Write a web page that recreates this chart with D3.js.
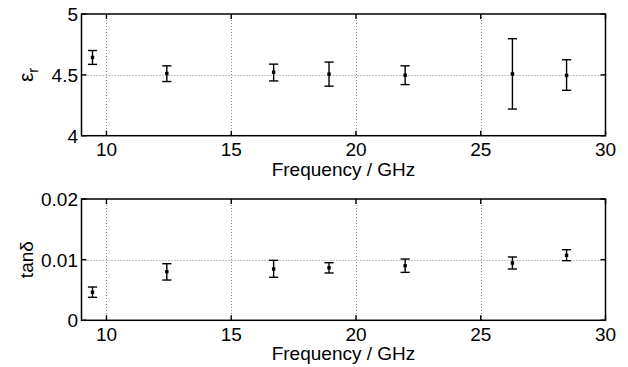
<!DOCTYPE html>
<html lang="en">
<head>
<meta charset="UTF-8">
<title>Permittivity and loss tangent vs frequency</title>
<script src="https://d3js.org/d3.v7.min.js"></script>
<style>
    body { margin: 0; background: #fff; }
    svg { display: block; }
    text { font-family: "Liberation Sans", Arial, sans-serif; fill: #000; }
    .grid { stroke: #888; stroke-width: 1; stroke-dasharray: 1,2; }
    .frame { fill: none; stroke: #000; stroke-width: 1.5; }
    .err { stroke: #000; stroke-width: 1.4; }
</style>
</head>
<body>
<svg width="628" height="367"></svg>
<script>
// frequency points (GHz)
const freq = [9.44, 12.42, 16.70, 18.92, 21.97, 26.27, 28.44];

// relative permittivity with error bar bounds
const epsVal = [4.643, 4.511, 4.522, 4.506, 4.497, 4.508, 4.495];
const epsLow = [4.586, 4.445, 4.450, 4.407, 4.420, 4.219, 4.373];
const epsHigh = [4.700, 4.574, 4.588, 4.605, 4.574, 4.797, 4.624];

// loss tangent with error bar bounds
const tanVal = [0.00462, 0.00801, 0.00846, 0.00867, 0.0090, 0.00945, 0.01072];
const tanLow = [0.00379, 0.00664, 0.00709, 0.0078, 0.0079, 0.00846, 0.00983];
const tanHigh = [0.00549, 0.00933, 0.00989, 0.0095, 0.0101, 0.01044, 0.01164];

const xTicks = [10, 15, 20, 25, 30];
const epsTicks = [4, 4.5, 5];
const tanTicks = [0, 0.01, 0.02];

const svg = d3.select("svg");
const left = 81.5, right = 605.5;

function panel(top, bottom, yDomain, yTicks, yFmt, vals, lows, highs, label) {
    const x = d3.scaleLinear().domain([9, 30]).range([left, right]);
    const y = d3.scaleLinear().domain(yDomain).range([bottom, top]);
    const g = svg.append("g");

    // dotted grid
    g.selectAll(".gx").data(xTicks.filter(t => t > 9 && t < 30)).enter().append("line")
        .attr("class", "grid")
        .attr("x1", d => Math.round(x(d)) + 0.5).attr("x2", d => Math.round(x(d)) + 0.5)
        .attr("y1", top).attr("y2", bottom);
    g.selectAll(".gy").data(yTicks.slice(1, -1)).enter().append("line")
        .attr("class", "grid")
        .attr("x1", left).attr("x2", right)
        .attr("y1", d => Math.round(y(d)) + 0.5).attr("y2", d => Math.round(y(d)) + 0.5);

    // inward ticks on all four sides
    const tl = 5;
    xTicks.forEach(t => {
        g.append("line").attr("class", "err").attr("x1", x(t)).attr("x2", x(t)).attr("y1", bottom).attr("y2", bottom - tl);
        g.append("line").attr("class", "err").attr("x1", x(t)).attr("x2", x(t)).attr("y1", top).attr("y2", top + tl);
    });
    yTicks.forEach(t => {
        g.append("line").attr("class", "err").attr("x1", left).attr("x2", left + tl).attr("y1", y(t)).attr("y2", y(t));
        g.append("line").attr("class", "err").attr("x1", right).attr("x2", right - tl).attr("y1", y(t)).attr("y2", y(t));
    });

    g.append("rect").attr("class", "frame")
        .attr("x", left).attr("y", top).attr("width", right - left).attr("height", bottom - top);

    // tick labels
    g.selectAll(".xl").data(xTicks).enter().append("text")
        .attr("x", d => x(d)).attr("y", bottom + 20.5)
        .attr("text-anchor", "middle").attr("font-size", 19)
        .text(d => d);
    g.selectAll(".yl").data(yTicks).enter().append("text")
        .attr("x", left - 3.5).attr("y", d => y(d) + 7)
        .attr("text-anchor", "end").attr("font-size", 19)
        .text(yFmt);

    g.append("text")
        .attr("x", (left + right) / 2).attr("y", bottom + 40)
        .attr("text-anchor", "middle").attr("font-size", 19)
        .text("Frequency / GHz");

    const yl = g.append("text")
        .attr("transform", `translate(33,${(top + bottom) / 2}) rotate(-90)`)
        .attr("text-anchor", "middle").attr("font-size", 19);
    label(yl);

    // error bars
    const cap = 4.6;
    const pts = freq.map((f, i) => ({ f, v: vals[i], lo: lows[i], hi: highs[i] }));
    const eb = g.selectAll(".eb").data(pts).enter().append("g");
    eb.append("line").attr("class", "err")
        .attr("x1", d => x(d.f)).attr("x2", d => x(d.f))
        .attr("y1", d => y(d.lo)).attr("y2", d => y(d.hi));
    eb.append("line").attr("class", "err")
        .attr("x1", d => x(d.f) - cap).attr("x2", d => x(d.f) + cap)
        .attr("y1", d => y(d.lo)).attr("y2", d => y(d.lo));
    eb.append("line").attr("class", "err")
        .attr("x1", d => x(d.f) - cap).attr("x2", d => x(d.f) + cap)
        .attr("y1", d => y(d.hi)).attr("y2", d => y(d.hi));
    eb.append("rect")
        .attr("x", d => x(d.f) - 1.7).attr("y", d => y(d.v) - 1.7)
        .attr("width", 3.4).attr("height", 3.4).attr("fill", "#000");
}

panel(14, 135.7, [4, 5], epsTicks, d => d, epsVal, epsLow, epsHigh, t => {
    t.append("tspan").attr("font-size", 21).text("ε");
    t.append("tspan").attr("font-size", 15).attr("dy", 5).text("r");
});

panel(199, 320.3, [0, 0.02], tanTicks, d => d === 0 ? "0" : d.toFixed(2), tanVal, tanLow, tanHigh, t => {
    t.text("tanδ");
});
</script>
</body>
</html>
